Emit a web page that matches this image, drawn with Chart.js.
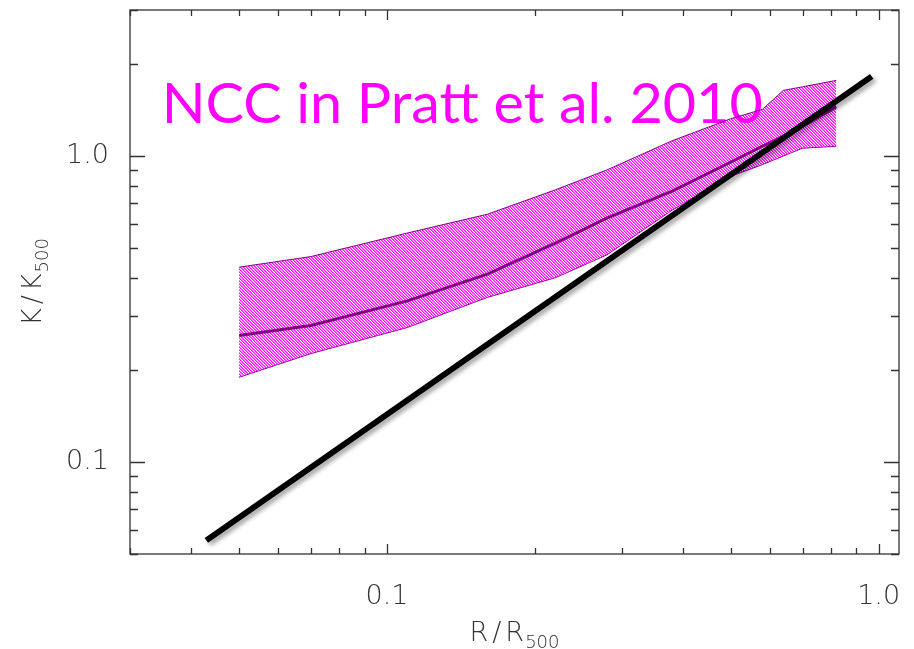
<!DOCTYPE html>
<html>
<head>
<meta charset="utf-8">
<script src="https://cdn.jsdelivr.net/npm/chart.js@4.4.1/dist/chart.umd.min.js"></script>
<style>
    html, body { margin: 0; padding: 0; background: #fff; }
    #wrap { width: 914px; height: 649px; }
</style>
</head>
<body>
<div id="wrap"><canvas id="chart"></canvas></div>
<script>
const radius = [0.05, 0.07, 0.11, 0.16, 0.22, 0.28, 0.38, 0.5, 0.58, 0.64, 0.7, 0.82];
const entropyUpper = [0.433, 0.469, 0.560, 0.645, 0.775, 0.900, 1.121, 1.323, 1.42, 1.638, 1.683, 1.766];
const entropyMedian = [0.259, 0.279, 0.336, 0.411, 0.519, 0.626, 0.768, 0.954, 1.076, 1.16, 1.25, 1.45];
const entropyLower = [0.189, 0.226, 0.275, 0.345, 0.400, 0.475, 0.665, 0.858, 0.937, 1.0, 1.06, 1.076];

// black baseline line, two end points
const baselineR = [0.0429, 0.968];
const baselineK = [0.0554, 1.82];

const xTicks = [0.03, 0.04, 0.05, 0.06, 0.07, 0.08, 0.09, 0.1, 0.2, 0.3, 0.4, 0.5, 0.6, 0.7, 0.8, 0.9, 1.0];
const yTicks = [0.05, 0.06, 0.07, 0.08, 0.09, 0.1, 0.2, 0.3, 0.4, 0.5, 0.6, 0.7, 0.8, 0.9, 1.0, 2.0, 3.0];
const xLabelValues = [0.1, 1.0];
const xLabelTexts = ['0.1', '1.0'];
const yLabelValues = [0.1, 1.0];
const yLabelTexts = ['0.1', '1.0'];

const titleText = 'NCC in Pratt et al. 2010';

const tickFont = '"DejaVu Sans", sans-serif';
const axisColor = '#333';

function labelFor(v, values, texts) {
    const i = values.indexOf(v);
    return i === -1 ? '' : texts[i];
}

function points(xs, ys) {
    return xs.map((x, i) => ({x: x, y: ys[i]}));
}

// magenta diagonal hatch, 3px period, gaps left clear
function hatchPattern() {
    const c = document.createElement('canvas');
    c.width = 3;
    c.height = 3;
    const g = c.getContext('2d');
    for (let i = 0; i < 3; i++) {
        g.fillStyle = '#ff00ff';
        g.fillRect(i, i, 1, 1);
        g.fillStyle = 'rgba(255,0,255,0.6)';
        g.fillRect((i + 1) % 3, i, 1, 1);
    }
    return g.createPattern(c, 'repeat');
}

function subLabel(ctx, main, sub, cx, base) {
    ctx.font = '200 27px ' + tickFont;
    ctx.letterSpacing = '4px';
    const w1 = ctx.measureText(main).width - 3;
    ctx.font = '200 18px ' + tickFont;
    ctx.letterSpacing = '0px';
    const w2 = ctx.measureText(sub).width;
    const x0 = cx - (w1 + w2) / 2;
    ctx.textAlign = 'left';
    ctx.textBaseline = 'alphabetic';
    ctx.font = '200 27px ' + tickFont;
    ctx.letterSpacing = '4px';
    ctx.fillText(main, x0, base);
    ctx.font = '200 18px ' + tickFont;
    ctx.letterSpacing = '0px';
    ctx.fillText(sub, x0 + w1, base + 7);
}

const titlePlugin = {
    id: 'titleText',
    beforeDatasetsDraw(chart) {
        const {ctx, chartArea: a} = chart;
        ctx.save();
        ctx.font = '100px Lato, "Open Sans", sans-serif';
        const cap = ctx.measureText('N').actualBoundingBoxAscent;
        const size = 100 * 41.6 / cap;
        ctx.font = size + 'px Lato, "Open Sans", sans-serif';
        const m = ctx.measureText(titleText);
        const ink = m.actualBoundingBoxLeft + m.actualBoundingBoxRight;
        ctx.translate(a.left + 36.7, a.top + 113.3);
        ctx.scale(595 / ink, 1);
        ctx.fillStyle = '#ff00ff';
        ctx.textBaseline = 'alphabetic';
        ctx.fillText(titleText, m.actualBoundingBoxLeft, 0);
        ctx.restore();
    }
};

const shadowPlugin = {
    id: 'lineShadow',
    beforeDatasetDraw(chart, args) {
        if (args.index !== 3) return;
        const ctx = chart.ctx;
        ctx.save();
        ctx.shadowColor = 'rgba(0,0,0,0.35)';
        ctx.shadowBlur = 4;
        ctx.shadowOffsetX = 3;
        ctx.shadowOffsetY = 3;
    },
    afterDatasetDraw(chart, args) {
        if (args.index !== 3) return;
        chart.ctx.restore();
    }
};

const framePlugin = {
    id: 'frameTicks',
    afterDraw(chart) {
        const {ctx, chartArea: a, scales: {x, y}} = chart;
        ctx.save();
        ctx.strokeStyle = axisColor;
        ctx.lineWidth = 1.3;
        ctx.strokeRect(a.left, a.top, a.right - a.left, a.bottom - a.top);

        ctx.beginPath();
        xTicks.forEach(v => {
            const px = Math.round(x.getPixelForValue(v)) + 0.5;
            const len = xLabelValues.includes(v) ? 10 : 6;
            ctx.moveTo(px, a.bottom);
            ctx.lineTo(px, a.bottom - len);
            ctx.moveTo(px, a.top);
            ctx.lineTo(px, a.top + len);
        });
        yTicks.forEach(v => {
            const py = Math.round(y.getPixelForValue(v)) + 0.5;
            const len = yLabelValues.includes(v) ? 15 : 8;
            ctx.moveTo(a.left, py);
            ctx.lineTo(a.left + len, py);
            ctx.moveTo(a.right, py);
            ctx.lineTo(a.right - len, py);
        });
        ctx.stroke();

        // axis titles with subscripts
        ctx.fillStyle = axisColor;
        subLabel(ctx, 'R/R', '500', (a.left + a.right) / 2, 641);
        ctx.translate(41, (a.top + a.bottom) / 2);
        ctx.rotate(-Math.PI / 2);
        subLabel(ctx, 'K/K', '500', 0, 0);
        ctx.restore();
    }
};

const band = hatchPattern();

new Chart(document.getElementById('chart'), {
    type: 'line',
    data: {
        datasets: [
            {
                label: 'upper',
                data: points(radius, entropyUpper),
                borderColor: '#800080',
                borderWidth: 1,
                backgroundColor: band,
                fill: 1,
                order: 2
            },
            {
                label: 'lower',
                data: points(radius, entropyLower),
                borderColor: '#800080',
                borderWidth: 1,
                fill: false,
                order: 3
            },
            {
                label: 'median',
                data: points(radius, entropyMedian),
                borderColor: '#800080',
                borderWidth: 3,
                fill: false,
                order: 1
            },
            {
                label: 'baseline',
                data: points(baselineR, baselineK),
                borderColor: '#000',
                borderWidth: 6,
                fill: false,
                order: 0
            }
        ]
    },
    options: {
        responsive: true,
        maintainAspectRatio: false,
        animation: false,
        events: [],
        layout: {padding: {top: 10, right: 15, left: 0, bottom: 0}},
        elements: {point: {radius: 0}, line: {tension: 0}},
        plugins: {
            legend: {display: false},
            tooltip: {enabled: false}
        },
        scales: {
            x: {
                type: 'logarithmic',
                min: 0.03,
                max: 1.1,
                grid: {display: false},
                border: {display: false},
                afterBuildTicks: s => { s.ticks = xTicks.map(v => ({value: v})); },
                afterFit: s => { s.height = 95; s.paddingLeft = 0; s.paddingRight = 0; },
                ticks: {
                    autoSkip: false,
                    maxRotation: 0,
                    padding: 19,
                    color: axisColor,
                    font: {family: tickFont, size: 27, weight: 200},
                    callback: v => labelFor(v, xLabelValues, xLabelTexts)
                }
            },
            y: {
                type: 'logarithmic',
                min: 0.05,
                max: 3,
                grid: {display: false},
                border: {display: false},
                afterBuildTicks: s => { s.ticks = yTicks.map(v => ({value: v})); },
                afterFit: s => { s.width = 130; s.paddingTop = 0; s.paddingBottom = 0; },
                ticks: {
                    autoSkip: false,
                    padding: 13,
                    color: axisColor,
                    font: {family: tickFont, size: 27, weight: 200},
                    callback: v => labelFor(v, yLabelValues, yLabelTexts)
                }
            }
        }
    },
    plugins: [titlePlugin, shadowPlugin, framePlugin]
});
</script>
</body>
</html>
